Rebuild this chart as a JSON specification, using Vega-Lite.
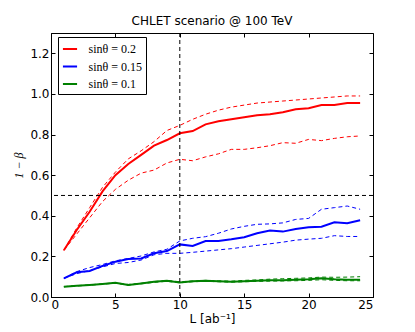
{
  "$schema": "https://vega.github.io/schema/vega-lite/v6.json",
  "width": 322,
  "height": 264,
  "autosize": "none",
  "padding": {"left": 51, "top": 33, "right": 42, "bottom": 35},
  "config": {
    "font": "DejaVu Sans",
    "view": {"stroke": "black", "strokeWidth": 1},
    "axis": {"grid": false, "domainColor": "black", "tickColor": "black", "labelColor": "black", "labelFontSize": 12, "labelFont": "DejaVu Sans", "tickSize": -4, "labelPadding": 6, "titleColor": "black", "titleFontWeight": "normal"}
  },
  "title": {"text": "CHLET scenario @ 100 TeV", "fontSize": 12, "fontWeight": "normal", "font": "DejaVu Sans", "color": "black", "offset": 5},
  "datasets": {
    "curves": [
      {"L":1,"s":"sinθ = 0.2","mid":0.23,"hi":0.23,"lo":0.23},
      {"L":2,"s":"sinθ = 0.2","mid":0.33,"hi":0.34,"lo":0.31},
      {"L":3,"s":"sinθ = 0.2","mid":0.42,"hi":0.44,"lo":0.39},
      {"L":4,"s":"sinθ = 0.2","mid":0.52,"hi":0.54,"lo":0.47},
      {"L":5,"s":"sinθ = 0.2","mid":0.6,"hi":0.615,"lo":0.53},
      {"L":6,"s":"sinθ = 0.2","mid":0.655,"hi":0.68,"lo":0.575},
      {"L":7,"s":"sinθ = 0.2","mid":0.7,"hi":0.72,"lo":0.61},
      {"L":8,"s":"sinθ = 0.2","mid":0.745,"hi":0.765,"lo":0.625},
      {"L":9,"s":"sinθ = 0.2","mid":0.773,"hi":0.82,"lo":0.66},
      {"L":10,"s":"sinθ = 0.2","mid":0.806,"hi":0.845,"lo":0.678},
      {"L":11,"s":"sinθ = 0.2","mid":0.817,"hi":0.875,"lo":0.671},
      {"L":12,"s":"sinθ = 0.2","mid":0.85,"hi":0.9,"lo":0.69},
      {"L":13,"s":"sinθ = 0.2","mid":0.865,"hi":0.92,"lo":0.705},
      {"L":14,"s":"sinθ = 0.2","mid":0.875,"hi":0.935,"lo":0.727},
      {"L":15,"s":"sinθ = 0.2","mid":0.885,"hi":0.945,"lo":0.727},
      {"L":16,"s":"sinθ = 0.2","mid":0.895,"hi":0.955,"lo":0.735},
      {"L":17,"s":"sinθ = 0.2","mid":0.9,"hi":0.96,"lo":0.745},
      {"L":18,"s":"sinθ = 0.2","mid":0.91,"hi":0.965,"lo":0.76},
      {"L":19,"s":"sinθ = 0.2","mid":0.925,"hi":0.97,"lo":0.757},
      {"L":20,"s":"sinθ = 0.2","mid":0.93,"hi":0.975,"lo":0.776},
      {"L":21,"s":"sinθ = 0.2","mid":0.945,"hi":0.98,"lo":0.77},
      {"L":22,"s":"sinθ = 0.2","mid":0.945,"hi":0.985,"lo":0.781},
      {"L":23,"s":"sinθ = 0.2","mid":0.955,"hi":0.99,"lo":0.789},
      {"L":24,"s":"sinθ = 0.2","mid":0.955,"hi":0.99,"lo":0.793},
      {"L":1,"s":"sinθ = 0.15","mid":0.092,"hi":0.092,"lo":0.092},
      {"L":2,"s":"sinθ = 0.15","mid":0.122,"hi":0.125,"lo":0.115},
      {"L":3,"s":"sinθ = 0.15","mid":0.128,"hi":0.145,"lo":0.13},
      {"L":4,"s":"sinθ = 0.15","mid":0.153,"hi":0.16,"lo":0.148},
      {"L":5,"s":"sinθ = 0.15","mid":0.174,"hi":0.178,"lo":0.165},
      {"L":6,"s":"sinθ = 0.15","mid":0.187,"hi":0.19,"lo":0.17},
      {"L":7,"s":"sinθ = 0.15","mid":0.19,"hi":0.202,"lo":0.182},
      {"L":8,"s":"sinθ = 0.15","mid":0.215,"hi":0.222,"lo":0.208},
      {"L":9,"s":"sinθ = 0.15","mid":0.226,"hi":0.235,"lo":0.215},
      {"L":10,"s":"sinθ = 0.15","mid":0.259,"hi":0.276,"lo":0.215},
      {"L":11,"s":"sinθ = 0.15","mid":0.251,"hi":0.289,"lo":0.22},
      {"L":12,"s":"sinθ = 0.15","mid":0.276,"hi":0.297,"lo":0.226},
      {"L":13,"s":"sinθ = 0.15","mid":0.276,"hi":0.314,"lo":0.232},
      {"L":14,"s":"sinθ = 0.15","mid":0.284,"hi":0.335,"lo":0.238},
      {"L":15,"s":"sinθ = 0.15","mid":0.294,"hi":0.348,"lo":0.246},
      {"L":16,"s":"sinθ = 0.15","mid":0.314,"hi":0.358,"lo":0.254},
      {"L":17,"s":"sinθ = 0.15","mid":0.327,"hi":0.36,"lo":0.262},
      {"L":18,"s":"sinθ = 0.15","mid":0.322,"hi":0.365,"lo":0.27},
      {"L":19,"s":"sinθ = 0.15","mid":0.335,"hi":0.382,"lo":0.28},
      {"L":20,"s":"sinθ = 0.15","mid":0.343,"hi":0.387,"lo":0.285},
      {"L":21,"s":"sinθ = 0.15","mid":0.346,"hi":0.432,"lo":0.289},
      {"L":22,"s":"sinθ = 0.15","mid":0.368,"hi":0.44,"lo":0.302},
      {"L":23,"s":"sinθ = 0.15","mid":0.363,"hi":0.448,"lo":0.298},
      {"L":24,"s":"sinθ = 0.15","mid":0.378,"hi":0.432,"lo":0.298},
      {"L":1,"s":"sinθ = 0.1","mid":0.051,"hi":0.051,"lo":0.051},
      {"L":2,"s":"sinθ = 0.1","mid":0.055,"hi":0.056,"lo":0.054},
      {"L":3,"s":"sinθ = 0.1","mid":0.059,"hi":0.06,"lo":0.058},
      {"L":4,"s":"sinθ = 0.1","mid":0.064,"hi":0.065,"lo":0.063},
      {"L":5,"s":"sinθ = 0.1","mid":0.07,"hi":0.07,"lo":0.068},
      {"L":6,"s":"sinθ = 0.1","mid":0.059,"hi":0.062,"lo":0.058},
      {"L":7,"s":"sinθ = 0.1","mid":0.067,"hi":0.068,"lo":0.065},
      {"L":8,"s":"sinθ = 0.1","mid":0.075,"hi":0.076,"lo":0.072},
      {"L":9,"s":"sinθ = 0.1","mid":0.08,"hi":0.082,"lo":0.077},
      {"L":10,"s":"sinθ = 0.1","mid":0.072,"hi":0.075,"lo":0.07},
      {"L":11,"s":"sinθ = 0.1","mid":0.077,"hi":0.079,"lo":0.075},
      {"L":12,"s":"sinθ = 0.1","mid":0.08,"hi":0.082,"lo":0.077},
      {"L":13,"s":"sinθ = 0.1","mid":0.078,"hi":0.08,"lo":0.075},
      {"L":14,"s":"sinθ = 0.1","mid":0.075,"hi":0.078,"lo":0.073},
      {"L":15,"s":"sinθ = 0.1","mid":0.078,"hi":0.082,"lo":0.075},
      {"L":16,"s":"sinθ = 0.1","mid":0.08,"hi":0.084,"lo":0.077},
      {"L":17,"s":"sinθ = 0.1","mid":0.082,"hi":0.088,"lo":0.078},
      {"L":18,"s":"sinθ = 0.1","mid":0.083,"hi":0.09,"lo":0.079},
      {"L":19,"s":"sinθ = 0.1","mid":0.085,"hi":0.092,"lo":0.08},
      {"L":20,"s":"sinθ = 0.1","mid":0.087,"hi":0.094,"lo":0.082},
      {"L":21,"s":"sinθ = 0.1","mid":0.092,"hi":0.098,"lo":0.085},
      {"L":22,"s":"sinθ = 0.1","mid":0.087,"hi":0.097,"lo":0.082},
      {"L":23,"s":"sinθ = 0.1","mid":0.085,"hi":0.098,"lo":0.08},
      {"L":24,"s":"sinθ = 0.1","mid":0.085,"hi":0.1,"lo":0.08}
    ]
  },
  "resolve": {"axis": {"x": "independent", "y": "independent"}},
  "layer": [
    {
      "data": {"name": "curves"},
      "transform": [{"fold": ["hi", "lo"], "as": ["k", "v"]}],
      "mark": {"type": "line", "strokeWidth": 1, "strokeDash": [4, 3], "clip": true},
      "encoding": {
        "x": {"field": "L", "type": "quantitative", "scale": {"domain": [0, 25], "nice": false}, "axis": null},
        "y": {"field": "v", "type": "quantitative", "scale": {"domain": [0, 1.3], "nice": false, "zero": false}, "axis": null},
        "color": {"field": "s", "type": "nominal", "scale": {"domain": ["sinθ = 0.2", "sinθ = 0.15", "sinθ = 0.1"], "range": ["#ff0000", "#0000ff", "#008000"]}},
        "detail": {"field": "k"}
      }
    },
    {
      "data": {"name": "curves"},
      "mark": {"type": "line", "strokeWidth": 2, "clip": true},
      "encoding": {
        "x": {"field": "L", "type": "quantitative", "axis": {"values": [0, 5, 10, 15, 20, 25], "format": "d", "title": "L [ab⁻¹]", "titleFont": "DejaVu Sans", "titleFontSize": 12, "titlePadding": 3}},
        "y": {"field": "mid", "type": "quantitative", "axis": {"values": [0, 0.2, 0.4, 0.6, 0.8, 1.0, 1.2], "format": ".1f", "title": "1 − β", "titleFont": "Liberation Serif", "titleFontSize": 12, "titleFontStyle": "italic", "titlePadding": 4}},
        "color": {"field": "s", "type": "nominal", "legend": {"title": null, "orient": "none", "legendX": 7, "legendY": 4, "symbolType": "stroke", "symbolStrokeWidth": 2, "symbolSize": 200, "labelFont": "Liberation Serif", "labelFontSize": 12, "labelColor": "black", "labelOffset": 10, "padding": 3.5, "rowPadding": 2.5, "strokeColor": "black", "fillColor": "white", "cornerRadius": 0}}
      }
    },
    {
      "data": {"values": [{"L": 10}]},
      "mark": {"type": "rule", "strokeDash": [4, 3], "color": "black", "strokeWidth": 1},
      "encoding": {
        "x": {"field": "L", "type": "quantitative", "axis": {"orient": "top", "values": [0, 5, 10, 15, 20, 25], "labels": false, "domain": false, "title": null}}
      }
    },
    {
      "data": {"values": [{"v": 0.5}]},
      "mark": {"type": "rule", "strokeDash": [4, 3], "color": "black", "strokeWidth": 1},
      "encoding": {
        "y": {"field": "v", "type": "quantitative", "axis": {"orient": "right", "values": [0, 0.2, 0.4, 0.6, 0.8, 1.0, 1.2], "labels": false, "domain": false, "title": null}}
      }
    }
  ]
}
